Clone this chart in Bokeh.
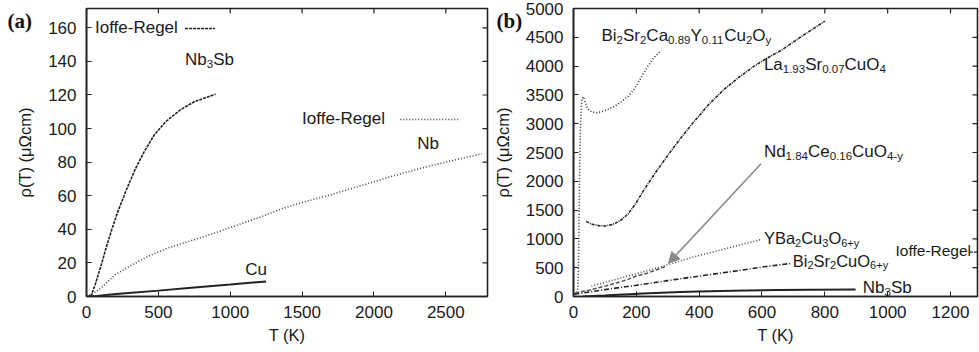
import math
from bokeh.plotting import figure
from bokeh.models import Range1d, Label, Arrow, NormalHead, FixedTicker
from bokeh.core.properties import value
from bokeh.layouts import row
from bokeh.embed import file_html
from bokeh.resources import INLINE

# ---------------- data: panel (a) ----------------
a_x_ticks = [0, 500, 1000, 1500, 2000, 2500]
a_y_ticks = [0, 20, 40, 60, 80, 100, 120, 140, 160]

nb3sb_T = [30, 60, 100, 140, 180, 220, 280, 340, 400, 470, 550, 650, 750, 898]
nb3sb_rho = [0, 7, 18, 30, 41, 51, 64, 76, 86, 96, 104, 111, 116, 120.5]

nb_T = [0, 50, 100, 200, 300, 430, 570, 720, 900, 1000, 1200, 1350, 1500, 1715, 1950, 2100, 2400, 2750]
nb_rho = [0, 2, 5, 13, 18, 24, 29, 33, 38, 41, 47, 52, 56, 61, 67, 71, 78, 85]

cu_T = [0, 80, 150, 250, 500, 750, 1000, 1250]
cu_rho = [0, 0.3, 1.0, 1.8, 3.5, 5.3, 7.1, 9.0]

ioffe_a_nb3sb = 159.6
ioffe_a_nb = 105.4

# ---------------- data: panel (b) ----------------
b_x_ticks = [0, 200, 400, 600, 800, 1000, 1200]
b_y_ticks = [0, 500, 1000, 1500, 2000, 2500, 3000, 3500, 4000, 4500, 5000]

bi2212_T = [3, 10, 14, 16, 18, 20, 23, 27, 31, 36, 42, 50, 60, 75, 90, 110, 130, 152, 175, 190, 205, 220, 237, 255, 279]
bi2212_rho = [40, 60, 150, 600, 1500, 2400, 3100, 3420, 3470, 3400, 3300, 3230, 3200, 3190, 3210, 3250, 3300, 3380, 3480, 3580, 3700, 3850, 4000, 4140, 4270]

la_T = [40, 60, 80, 100, 125, 150, 175, 200, 222, 257, 300, 340, 375, 430, 480, 530, 575, 620, 660, 730, 800]
la_rho = [1300, 1255, 1230, 1225, 1250, 1320, 1440, 1630, 1830, 2120, 2450, 2740, 2980, 3330, 3600, 3820, 4000, 4150, 4270, 4530, 4780]

nd_T = [5, 50, 100, 136, 170, 200, 235, 263, 295]
nd_rho = [60, 110, 180, 235, 290, 355, 405, 460, 525]

yba_T = [57, 150, 263, 375, 490, 597]
yba_rho = [180, 320, 490, 675, 840, 990]

bi2201_T = [3, 100, 200, 300, 400, 500, 613, 692]
bi2201_rho = [40, 120, 195, 275, 355, 430, 520, 575]

nb3sb_b_T = nb3sb_T
nb3sb_b_rho = nb3sb_rho

ioffe_b = 770

# ---------------- helpers ----------------
FONT = "Liberation Sans"
TXT = "#1a1a1a"
LINE = "#222222"

W = {' ': 278, '(': 333, ')': 333, '+': 584, '-': 333, '.': 278}
for d in "0123456789":
    W[d] = 556
W.update(dict(A=667, B=667, C=722, D=722, E=667, F=611, G=778, H=722, I=278, J=500, K=667,
              L=556, M=833, N=722, O=778, P=667, Q=778, R=722, S=667, T=611, U=722, V=667,
              W=944, X=667, Y=667, Z=611))
W.update(dict(a=556, b=556, c=500, d=556, e=556, f=278, g=556, h=556, i=222, j=222, k=500,
              l=222, m=833, n=556, o=556, p=556, q=556, r=333, s=500, t=278, u=556, v=500,
              w=722, x=500, y=500, z=500))

BASE_FIX = 7.5  # empirical shift of the alphabetic baseline in Label rendering


def tw(s, size):
    return sum(W.get(c, 556) for c in s) * size / 1000.0


def rich(p, x, y, parts, size=17, sub=11.5):
    off = 0.0
    for t, is_sub in parts:
        fs = sub if is_sub else size
        yo = -0.36 * size + BASE_FIX
        if is_sub:
            yo -= 4.5
        p.add_layout(Label(x=x, y=y, x_offset=off, y_offset=yo,
                           text=t, text_font=FONT, text_font_size=f"{fs}px",
                           text_color=TXT, text_baseline="alphabetic", text_align="left"))
        off += tw(t, fs)


def chem(s):
    parts = []
    i = 0
    buf = ""
    while i < len(s):
        if s[i] == "_" and s[i + 1] == "{":
            if buf:
                parts.append((buf, False))
                buf = ""
            j = s.index("}", i)
            parts.append((s[i + 2:j], True))
            i = j + 1
        else:
            buf += s[i]
            i += 1
    if buf:
        parts.append((buf, False))
    return parts


def style(p, xt, yt, xr, yr):
    p.outline_line_color = "#222"
    p.outline_line_width = 1.6
    p.background_fill_color = "white"
    p.border_fill_color = "white"
    p.xgrid.visible = False
    p.ygrid.visible = False
    p.xaxis.ticker = FixedTicker(ticks=xt)
    p.yaxis.ticker = FixedTicker(ticks=yt)
    for ax in (p.xaxis[0], p.yaxis[0]):
        ax.axis_line_color = "#222"
        ax.axis_line_width = 1.6
        ax.major_tick_in = 5
        ax.major_tick_out = 0
        ax.minor_tick_in = 0
        ax.minor_tick_out = 0
        ax.major_tick_line_color = "#222"
        ax.major_label_text_font = FONT
        ax.major_label_text_font_size = "17px"
        ax.major_label_text_color = TXT
        ax.axis_label_text_font = FONT
        ax.axis_label_text_font_size = "16.5px"
        ax.axis_label_text_font_style = "normal"
        ax.axis_label_text_color = TXT
    p.xaxis[0].major_label_standoff = 9
    p.xaxis[0].axis_label_standoff = 5
    p.yaxis[0].major_label_standoff = 10
    p.yaxis[0].axis_label_standoff = 11
    # mirrored inward ticks on the top and right edges of the frame
    p.scatter(x=xt, y=[yr] * len(xt), marker="dash", size=10, angle=math.pi / 2,
              line_color="#222", line_width=1.2)
    p.scatter(x=[xr] * len(yt), y=yt, marker="dash", size=10,
              line_color="#222", line_width=1.2)


def panel_tag(p, text, x, y, x_off):
    # text glyph drawn on the overlay level so that it is not clipped to the frame
    p.text(x=[x], y=[y], text=[text], x_offset=x_off, text_font=value("Liberation Serif"),
           text_font_style="bold", text_font_size="21px", text_color="#111",
           text_baseline="middle", text_align="left", level="overlay")


# ---------------- panel (a) ----------------
A_XMAX, A_YMAX = 2790, 171.5
pa = figure(width=490, height=352, output_backend="svg", toolbar_location=None,
            x_range=Range1d(0, A_XMAX), y_range=Range1d(0, A_YMAX),
            min_border_left=86, min_border_right=3, min_border_top=8, min_border_bottom=56,
            x_axis_label="T (K)", y_axis_label="ρ(T) (μΩcm)")
style(pa, a_x_ticks, a_y_ticks, A_XMAX, A_YMAX)

pa.line(nb3sb_T, nb3sb_rho, line_color=LINE, line_width=1.6, line_dash="3 1")
pa.line(nb_T, nb_rho, line_color="#444", line_width=1.6, line_dash="1 2")
pa.line(cu_T, cu_rho, line_color=LINE, line_width=2)

pa.segment(x0=[686], y0=[ioffe_a_nb3sb], x1=[895], y1=[ioffe_a_nb3sb],
           line_color=LINE, line_width=1.4, line_dash="3 1")
pa.segment(x0=[2183], y0=[ioffe_a_nb], x1=[2601], y1=[ioffe_a_nb],
           line_color="#444", line_width=1.4, line_dash="1 2")

rich(pa, 59, ioffe_a_nb3sb, chem("Ioffe-Regel"))
rich(pa, 686, 140.4, chem("Nb_{3}Sb"))
rich(pa, 1500, ioffe_a_nb, chem("Ioffe-Regel"))
rich(pa, 2301, 90.4, chem("Nb"))
rich(pa, 1104, 15, chem("Cu"))

panel_tag(pa, "(a)", 10, 164.2, -80.4)

# ---------------- panel (b) ----------------
B_XMAX, B_YMAX = 1286, 5000
pb = figure(width=489, height=352, output_backend="svg", toolbar_location=None,
            x_range=Range1d(0, B_XMAX), y_range=Range1d(0, B_YMAX),
            min_border_left=82, min_border_right=2, min_border_top=8, min_border_bottom=56,
            x_axis_label="T (K)", y_axis_label="ρ(T) (μΩcm)")
style(pb, b_x_ticks, b_y_ticks, B_XMAX, B_YMAX)

pb.line(bi2212_T, bi2212_rho, line_color="#333", line_width=1.6, line_dash="1 2")
pb.line(la_T, la_rho, line_color=LINE, line_width=1.6, line_dash="3 1 1 1")
pb.line(nd_T, nd_rho, line_color="#555", line_width=1.5, line_dash="4 2")
pb.line(yba_T, yba_rho, line_color="#444", line_width=1.5, line_dash="1 2")
pb.line(bi2201_T, bi2201_rho, line_color=LINE, line_width=1.6, line_dash="5 2 1 2")
pb.line(nb3sb_b_T, nb3sb_b_rho, line_color=LINE, line_width=2)

pb.segment(x0=[1262], y0=[ioffe_b], x1=[1286], y1=[ioffe_b],
           line_color=LINE, line_width=1.4, line_dash="3 1")

pb.add_layout(Arrow(end=NormalHead(size=11, fill_color="#8a8a8a", line_color="#8a8a8a"),
                    x_start=597, y_start=2305, x_end=302, y_end=576,
                    line_color="#8a8a8a", line_width=1.6))

rich(pb, 89, 4508, chem("Bi_{2}Sr_{2}Ca_{0.89}Y_{0.11}Cu_{2}O_{y}"))
rich(pb, 606, 4000, chem("La_{1.93}Sr_{0.07}CuO_{4}"))
rich(pb, 606, 2492, chem("Nd_{1.84}Ce_{0.16}CuO_{4-y}"))
rich(pb, 606, 983, chem("YBa_{2}Cu_{3}O_{6+y}"), size=16.5, sub=11)
rich(pb, 698, 593, chem("Bi_{2}Sr_{2}CuO_{6+y}"), size=16.5, sub=11)
rich(pb, 921, 136, chem("Nb_{3}Sb"))
rich(pb, 1025, ioffe_b, chem("Ioffe-Regel"), size=15.5)

panel_tag(pb, "(b)", 5, 4790, -78.6)

layout = row(pa, pb)
open("out.html", "w").write(file_html(layout, INLINE))
